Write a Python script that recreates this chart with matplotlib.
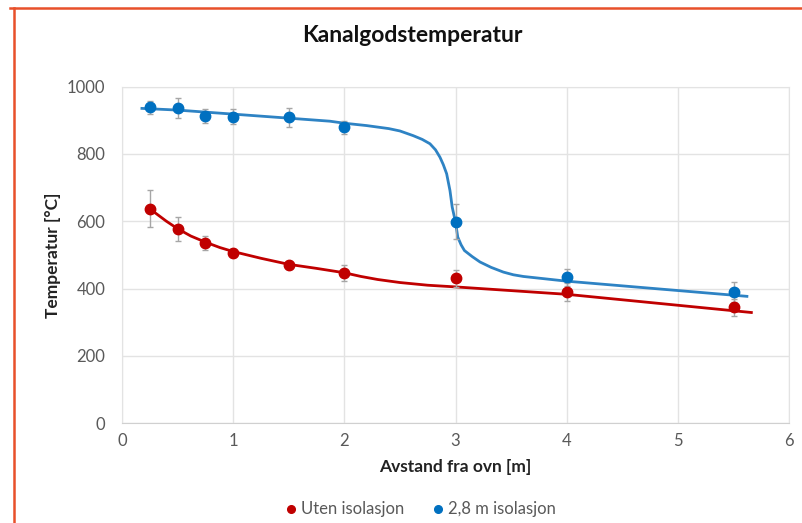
"""
Kanalgodstemperatur: temperature vs distance from furnace, with and without insulation.
Saves to out.png
"""
import matplotlib
matplotlib.use('Agg')
import matplotlib.pyplot as plt
from matplotlib.lines import Line2D

plt.rcParams['font.family'] = ['Lato', 'DejaVu Sans']

# measured points
dist = [0.25, 0.5, 0.75, 1.0, 1.5, 2.0, 3.0, 4.0, 5.5]
temp_uten = [637, 578, 536, 507, 471, 447, 430, 390, 345]
err_uten = [55, 36, 21, 12, 12, 23, 25, 27, 25]
temp_iso = [938, 936, 913, 910, 908, 879, 599, 434, 390]
err_iso = [19, 29, 20, 22, 27, 19, 52, 25, 30]

# trend lines
trend_uten_x = [0.25, 0.4, 0.5, 0.62, 0.75, 0.88, 1.0, 1.25, 1.5, 1.75, 2.0, 2.15, 2.3,
                2.5, 2.75, 3.0, 4.0, 5.66]
trend_uten_y = [637, 600, 578, 556, 538, 522, 510, 490, 472, 460, 447, 436, 427,
                418, 410, 405, 383, 329]
trend_iso_x = [0.18, 0.5, 1.0, 1.5, 1.87, 2.0, 2.2, 2.4, 2.5, 2.62, 2.7, 2.77, 2.82,
               2.86, 2.89, 2.92, 2.95, 2.97, 3.0, 3.02, 3.05, 3.08, 3.15, 3.22, 3.32,
               3.43, 3.52, 3.61, 4.0, 5.62]
trend_iso_y = [935, 930, 918, 906, 897, 891, 884, 875, 868, 854, 843, 830, 812,
               790, 768, 741, 691, 642, 597, 553, 530, 513, 495, 479, 463,
               449, 441, 436, 422, 377]

RED = '#C00000'
BLUE = '#0070C0'
GREY = '#595959'

fig = plt.figure(figsize=(8.02, 5.23), dpi=100)
ax = fig.add_axes([0.152, 0.1906, 0.832, 0.644])

ax.plot(trend_uten_x, trend_uten_y, color=RED, linewidth=2, zorder=2)
ax.plot(trend_iso_x, trend_iso_y, color='#2E83C4', linewidth=2, zorder=2)

ax.errorbar(dist, temp_uten, yerr=err_uten, fmt='o', color=RED, markersize=7.5,
            ecolor='#A6A6A6', elinewidth=1, capsize=2, zorder=3)
ax.errorbar(dist, temp_iso, yerr=err_iso, fmt='o', color=BLUE, markersize=7.5,
            ecolor='#A6A6A6', elinewidth=1, capsize=2, zorder=3)

ax.set_xlim(0, 6)
ax.set_ylim(0, 1000)
ax.set_xticks(range(0, 7))
ax.set_yticks(range(0, 1001, 200))
ax.grid(True, color='#E3E3E3', linewidth=1)
ax.set_axisbelow(True)
for s in ax.spines.values():
    s.set_color('#E3E3E3')
ax.spines['bottom'].set_color('#D0D0D0')
ax.tick_params(length=0, labelsize=12, labelcolor=GREY)
ax.tick_params(axis='x', pad=7)
ax.tick_params(axis='y', pad=12)

ax.set_xlabel('Avstand fra ovn [m]', fontsize=12.5, fontweight='bold', color='#222222', labelpad=7)
ax.set_ylabel('Temperatur [°C]', fontsize=12.5, fontweight='bold', color='#222222', labelpad=4)
fig.text(0.514, 0.933, 'Kanalgodstemperatur', ha='center', va='center',
         fontsize=16.5, fontweight='bold', color='#111111')

handles = [Line2D([], [], marker='o', linestyle='', color=RED, markersize=5.5),
           Line2D([], [], marker='o', linestyle='', color=BLUE, markersize=5.5)]
fig.legend(handles, ['Uten isolasjon', '2,8 m isolasjon'], loc='center',
           bbox_to_anchor=(0.523, 0.026), ncol=2, frameon=False, fontsize=12,
           labelcolor=GREY, handletextpad=0.1, columnspacing=1.5, handlelength=1)

# orange frame at top and left
fig.add_artist(Line2D([0.0125, 1.0], [0.984, 0.984], transform=fig.transFigure,
                      color='#E8502A', linewidth=1.8))
fig.add_artist(Line2D([0.018, 0.018], [0.0, 0.984], transform=fig.transFigure,
                      color='#E8502A', linewidth=1.8))

fig.savefig('out.png', dpi=100)
